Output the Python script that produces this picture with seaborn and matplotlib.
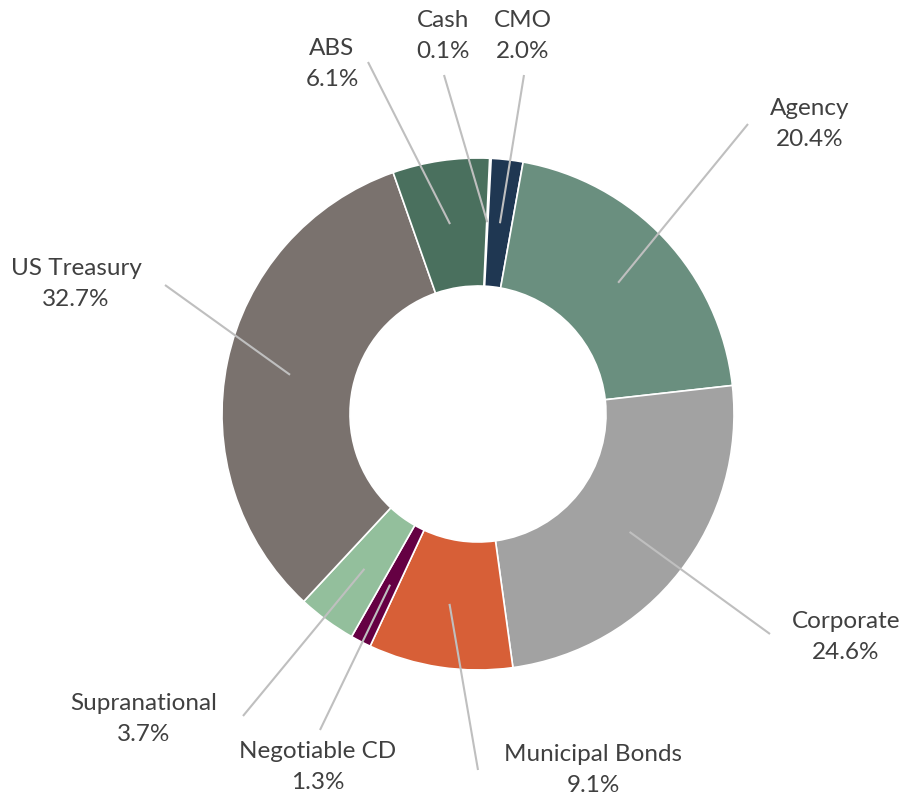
import numpy as np
import matplotlib
matplotlib.use("Agg")
import matplotlib.pyplot as plt
import seaborn as sns

# chart data (clockwise from the top)
sectors = ['Cash', 'CMO', 'Agency', 'Corporate', 'Municipal Bonds',
           'Negotiable CD', 'Supranational', 'US Treasury', 'ABS']
shares = [0.1, 2.0, 20.4, 24.6, 9.1, 1.3, 3.7, 32.7, 6.1]
colors = ['#E7E6E6', '#1F3752', '#6A8F7F', '#A2A2A2', '#D75F37',
          '#650043', '#93BF9C', '#7A726E', '#4A705E']

# layout (pixel coords, y from top): label centre and leader line outer end
label_pos = [(443, 36), (523, 36), (810, 124), (846, 637), (593, 770),
             (318, 767), (144, 719), (76, 284), (332, 64)]
line_end = [(444, 75), (524, 75), (748, 124), (770, 634), (478, 770),
            (320, 730), (243, 716), (165, 285), (368, 62)]

W, H = 907, 805
cx, cy = 478, 414
R = 256
start_offset = 2.6  # degrees clockwise from 12 o'clock

sns.set_theme(style="white")
plt.rcParams['font.family'] = ['Lato', 'DejaVu Sans']

fig = plt.figure(figsize=(W / 100, H / 100), dpi=100)
ax = fig.add_axes([0, 0, 1, 1])

ax.pie(shares, colors=colors, startangle=90 - start_offset, counterclock=False,
       center=(cx, H - cy), radius=R,
       wedgeprops=dict(width=R / 2, edgecolor='white', linewidth=1.2))
ax.set_xlim(0, W)
ax.set_ylim(0, H)
ax.set_aspect('equal')
ax.axis('off')

# leader lines start at the middle of each ring segment
cum = np.cumsum([0] + shares[:-1])
r_mid = R * 0.75
for i, name in enumerate(sectors):
    mid = np.deg2rad(start_offset + (cum[i] + shares[i] / 2) * 3.6)
    x0 = cx + r_mid * np.sin(mid)
    y0 = cy - r_mid * np.cos(mid)
    x1, y1 = line_end[i]
    ax.plot([x0, x1], [H - y0, H - y1], color='#BFBFBF', lw=1.5,
            solid_capstyle='butt', zorder=3)
    lx, ly = label_pos[i]
    ax.text(lx, H - ly, f"{name}\n{shares[i]:.1f}%", ha='center', va='center',
            fontsize=17.5, color='#404040', linespacing=1.55)

fig.savefig('out.png', dpi=100, facecolor='white')
